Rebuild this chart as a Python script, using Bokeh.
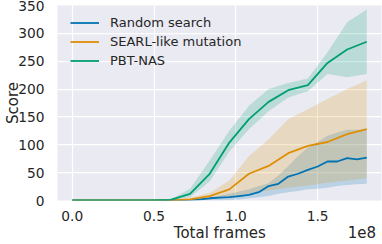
from bokeh.plotting import figure
from bokeh.models import Range1d, FixedTicker, NumeralTickFormatter, LinearAxis
from bokeh.embed import file_html
from bokeh.resources import INLINE

# x positions in units of 1e8 frames
frames_rs = [0.00, 0.06, 0.12, 0.18, 0.24, 0.30, 0.36, 0.42, 0.48, 0.54, 0.60,
             0.66, 0.72, 0.78, 0.84, 0.90, 0.96, 1.02, 1.08, 1.14, 1.20, 1.26,
             1.32, 1.38, 1.44, 1.50, 1.56, 1.62, 1.68, 1.74, 1.80]
rs_mean = [0, 0, 0, 0, 0, 0, 0, 0, 0, 0, 0, 0.5, 1, 2, 4, 5, 6, 8, 10, 15, 26, 30,
           43, 48, 55, 61, 70, 70, 76, 74, 77]
rs_upper = [0, 0, 0, 0, 0, 0, 0, 0, 0, 0, 0, 1, 2, 4, 6, 9, 12, 16, 20, 26, 31, 45,
            62, 80, 95, 105, 116, 122, 127, 127, 128]
rs_lower = [0, 0, 0, 0, 0, 0, 0, 0, 0, 0, 0, 0, 0, 0, 0, 0, 1, 2, 4, 6, 8, 12,
            15, 17, 20, 21, 23, 26, 28, 29, 30]

frames = [0.00, 0.12, 0.24, 0.36, 0.48, 0.60, 0.72, 0.84, 0.96, 1.08, 1.20, 1.32,
          1.44, 1.56, 1.68, 1.80]
searl_mean = [0, 0, 0, 0, 0, 0, 2, 8, 20, 48, 62, 85, 98, 105, 119, 128]
searl_upper = [0, 0, 0, 0, 0, 1, 5, 14, 36, 80, 110, 146, 164, 182, 200, 216]
searl_lower = [0, 0, 0, 0, 0, 0, 0, 2, 6, 12, 18, 23, 27, 32, 36, 40]
pbt_mean = [0, 0, 0, 0, 0, 1, 12, 48, 104, 146, 177, 198, 207, 247, 271, 285]
pbt_upper = [0, 0, 0, 0, 0, 2, 21, 72, 125, 170, 200, 211, 219, 266, 320, 343]
pbt_lower = [0, 0, 0, 0, 0, 0, 6, 34, 88, 128, 160, 185, 196, 227, 221, 227]

series_names = ["Random search", "SEARL-like mutation", "PBT-NAS"]
colors = ["#0173b2", "#de8f05", "#029e73"]
x_ticks = [0.0, 0.5, 1.0, 1.5]
y_ticks = [0, 50, 100, 150, 200, 250, 300, 350]
x_title = "Total frames"
x_offset_text = "1e8"

FONT = "DejaVu Sans"
TXT = "#262626"

p = figure(width=382, height=244, output_backend="svg", toolbar_location=None,
           x_range=Range1d(-0.09, 1.89), y_range=Range1d(0, 350),
           x_axis_location=None,
           min_border_left=57, min_border_right=1, min_border_top=5,
           min_border_bottom=44)
p.background_fill_color = "#eaeaf2"
p.border_fill_color = "white"
p.outline_line_color = None

data = [
    (frames_rs, rs_mean, rs_lower, rs_upper),
    (frames, searl_mean, searl_lower, searl_upper),
    (frames, pbt_mean, pbt_lower, pbt_upper),
]
for (xs, m, lo, hi), c in zip(data, colors):
    p.varea(x=xs, y1=lo, y2=hi, fill_color=c, fill_alpha=0.2)
for (xs, m, lo, hi), c, name in zip(data, colors, series_names):
    p.line(xs, m, line_color=c, line_width=1.8, legend_label=name)

# x tick labels
xa = LinearAxis(ticker=FixedTicker(ticks=x_ticks),
                formatter=NumeralTickFormatter(format="0.0"))
# second row: axis title and the offset text
xb = LinearAxis(ticker=FixedTicker(ticks=[0.902, 1.77]),
                major_label_overrides={0.902: x_title, 1.77: x_offset_text})
p.add_layout(xa, "below")
p.add_layout(xb, "below")

for ax in (xa, xb, p.yaxis[0]):
    ax.axis_line_color = None
    ax.major_tick_line_color = None
    ax.minor_tick_line_color = None
    ax.major_tick_out = 0
    ax.major_tick_in = 0
    ax.minor_tick_out = 0
    ax.minor_tick_in = 0
    ax.major_label_text_font = FONT
    ax.major_label_text_font_size = "13.75px"
    ax.major_label_text_color = TXT
    ax.axis_label_text_font = FONT
    ax.axis_label_text_font_size = "15px"
    ax.axis_label_text_font_style = "normal"
    ax.axis_label_text_color = TXT

xa.major_label_standoff = 10
xb.major_label_standoff = 0
xb.major_label_text_font_size = "15px"

p.yaxis.ticker = FixedTicker(ticks=y_ticks)
p.yaxis.axis_label = "Score"
p.yaxis.major_label_standoff = 13
p.yaxis.axis_label_standoff = -7

for g in (p.xgrid[0], p.ygrid[0]):
    g.grid_line_color = "white"
    g.grid_line_width = 1.25
p.xgrid[0].ticker = FixedTicker(ticks=x_ticks)
p.ygrid[0].ticker = FixedTicker(ticks=y_ticks)

lg = p.legend[0]
lg.location = (13, 130)
lg.margin = 0
lg.padding = 0
lg.spacing = 0
lg.glyph_width = 29
lg.glyph_height = 19
lg.label_height = 19
lg.label_standoff = 11
lg.label_text_font = FONT
lg.label_text_font_size = "13px"
lg.label_text_color = TXT
lg.background_fill_alpha = 0
lg.border_line_alpha = 0

open("out.html", "w").write(file_html(p, INLINE))
